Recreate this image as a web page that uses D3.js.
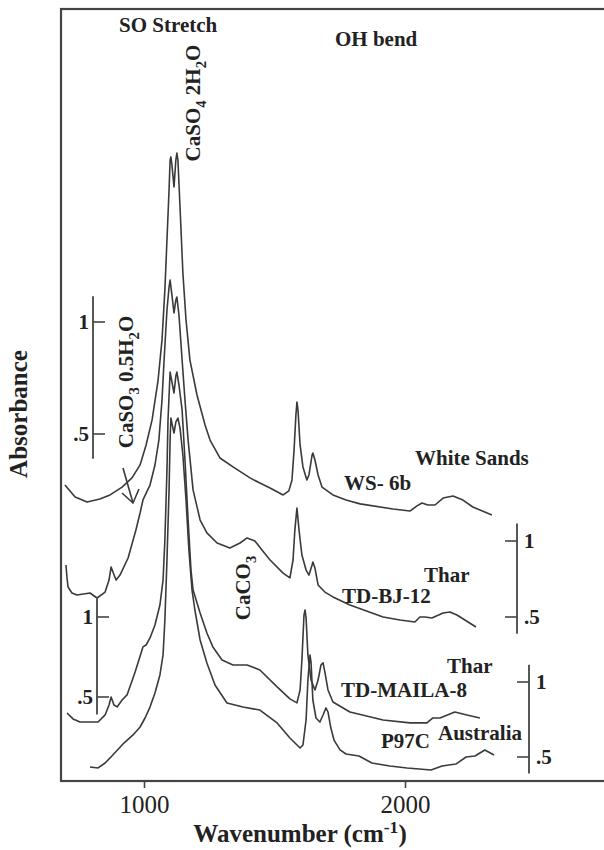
<!DOCTYPE html>
<html>
<head>
<meta charset="utf-8">
<script src="https://cdn.jsdelivr.net/npm/d3@7/dist/d3.min.js"></script>
<style>
  body { margin: 0; background: #fff; }
  text { font-family: "Liberation Serif", "Times New Roman", serif; fill: #222; }
</style>
</head>
<body>
<svg id="chart-area"></svg>
<script>
// spectra: [wavenumber (cm-1), absorbance]
const ws6b = [[697,.272],[736,.219],[782,.196],[831,.210],[870,.228],[916,.263],[954,.304],[985,.362],[1008,.451],[1031,.563],[1054,.741],[1069,.920],[1080,1.143],[1088,1.366],[1096,1.589],[1100,1.723],[1103,1.737],[1107,1.701],[1115,1.603],[1122,1.723],[1126,1.754],[1130,1.723],[1138,1.513],[1149,1.219],[1161,1.009],[1176,.830],[1203,.674],[1234,.540],[1253,.473],[1291,.393],[1341,.353],[1406,.304],[1444,.281],[1483,.259],[1533,.228],[1555,.246],[1567,.295],[1575,.429],[1582,.585],[1586,.643],[1590,.607],[1598,.451],[1609,.353],[1624,.295],[1632,.317],[1644,.406],[1647,.415],[1655,.384],[1667,.317],[1682,.263],[1724,.228],[1774,.205],[1828,.188],[1954,.165],[2019,.156],[2046,.179],[2065,.192],[2088,.183],[2115,.183],[2146,.214],[2184,.223],[2222,.205],[2260,.174],[2333,.138]]

const tdbj12 = [[701,.842],[705,.757],[709,.697],[724,.658],[743,.645],[793,.658],[820,.625],[851,.664],[866,.743],[874,.829],[881,.796],[893,.743],[908,.776],[939,.888],[969,1.072],[985,1.184],[996,1.270],[1023,1.368],[1042,1.500],[1057,1.664],[1069,1.928],[1077,2.191],[1088,2.520],[1096,2.671],[1100,2.717],[1107,2.618],[1115,2.500],[1122,2.586],[1126,2.605],[1134,2.487],[1146,2.191],[1157,1.928],[1169,1.664],[1188,1.336],[1215,1.138],[1241,1.053],[1280,.987],[1329,.954],[1368,.987],[1395,1.020],[1425,1.000],[1452,.941],[1483,.875],[1533,.789],[1559,.757],[1571,.875],[1578,1.072],[1586,1.217],[1594,1.072],[1605,.908],[1621,.809],[1632,.776],[1644,.842],[1647,.862],[1655,.822],[1667,.711],[1693,.664],[1724,.632],[1789,.579],[1916,.500],[1981,.480],[2038,.467],[2057,.500],[2077,.500],[2103,.493],[2146,.526],[2172,.533],[2199,.513],[2272,.434]]

const tdmaila8 = [[705,.400],[728,.363],[755,.344],[824,.344],[851,.388],[866,.450],[874,.500],[885,.450],[897,.438],[916,.481],[935,.513],[966,.656],[996,.813],[1008,.825],[1023,.869],[1042,.950],[1061,1.075],[1073,1.231],[1080,1.481],[1088,1.919],[1092,2.231],[1100,2.531],[1107,2.469],[1115,2.400],[1122,2.506],[1126,2.531],[1134,2.450],[1146,2.294],[1157,1.981],[1169,1.606],[1180,1.294],[1188,1.169],[1215,1.025],[1241,.900],[1264,.813],[1299,.731],[1341,.700],[1395,.700],[1444,.669],[1510,.563],[1559,.488],[1586,.463],[1598,.544],[1605,.731],[1613,1.013],[1617,1.044],[1621,.994],[1628,.763],[1640,.606],[1655,.544],[1667,.606],[1678,.700],[1686,.713],[1693,.656],[1705,.544],[1724,.469],[1789,.406],[1916,.356],[2019,.338],[2084,.338],[2107,.369],[2134,.369],[2191,.406],[2237,.388],[2287,.369]]

const p97c = [[793,.433],[824,.427],[851,.460],[877,.507],[923,.593],[958,.647],[985,.700],[1004,.760],[1023,.833],[1042,.927],[1061,1.047],[1073,1.180],[1080,1.413],[1088,1.813],[1096,2.280],[1100,2.613],[1103,2.760],[1111,2.693],[1115,2.660],[1122,2.733],[1130,2.760],[1138,2.693],[1149,2.513],[1161,2.213],[1172,1.880],[1184,1.613],[1195,1.480],[1215,1.280],[1241,1.127],[1272,.980],[1318,.860],[1379,.833],[1444,.813],[1510,.727],[1559,.627],[1598,.560],[1609,.580],[1621,.747],[1628,1.013],[1636,1.180],[1640,1.133],[1647,.880],[1659,.760],[1674,.733],[1686,.780],[1697,.827],[1705,.800],[1716,.693],[1728,.613],[1751,.547],[1774,.520],[1824,.507],[1873,.460],[1942,.440],[2008,.427],[2100,.413],[2142,.440],[2195,.453],[2234,.500],[2268,.507],[2306,.547],[2341,.513]]

const xTicks = [1000, 2000]
const barTicks = [0.5, 1]
const barExtent = [0.39, 1.115]

const width = 604
const height = 850
const ink = "#3a3a3a"

const svg = d3.select("#chart-area")
    .attr("width", width)
    .attr("height", height)

const frame = {left: 61, top: 9, right: 616, bottom: 781}

const x = d3.scaleLinear().domain([1000, 2000]).range([144, 405])

// each spectrum has its own absorbance scale (shown by its scale bar)
const spectra = [
    {data: ws6b, y: d3.scaleLinear().domain([0.5, 1]).range([434, 322]), bar: 93, side: "left"},
    {data: tdbj12, y: d3.scaleLinear().domain([0.5, 1]).range([617, 541]), bar: 517, side: "right"},
    {data: tdmaila8, y: d3.scaleLinear().domain([0.5, 1]).range([697, 617]), bar: 97, side: "left"},
    {data: p97c, y: d3.scaleLinear().domain([0.5, 1]).range([757, 682]), bar: 529, side: "right"}
]

// frame
svg.append("rect")
    .attr("x", frame.left)
    .attr("y", frame.top)
    .attr("width", frame.right - frame.left)
    .attr("height", frame.bottom - frame.top)
    .attr("fill", "none")
    .attr("stroke", "#444")
    .attr("stroke-width", 2.2)

// x axis
const gx = svg.append("g")
    .attr("transform", `translate(0,${frame.bottom})`)
    .call(d3.axisBottom(x).tickValues(xTicks).tickSize(7).tickPadding(7).tickFormat(d3.format("d")))
gx.select(".domain").remove()
gx.selectAll("line").attr("stroke", "#444").attr("stroke-width", 1.6)
gx.selectAll("text")
    .attr("font-family", "Liberation Serif, serif")
    .attr("font-size", 25)
    .attr("fill", "#222")

// spectra lines
spectra.forEach(s => {
    const line = d3.line()
        .x(d => x(d[0]))
        .y(d => s.y(d[1]))
    svg.append("path")
        .datum(s.data)
        .attr("d", line)
        .attr("fill", "none")
        .attr("stroke", ink)
        .attr("stroke-width", 1.6)
        .attr("stroke-linejoin", "round")
})

// scale bars
spectra.forEach(s => {
    const g = svg.append("g")
    g.append("line")
        .attr("x1", s.bar).attr("x2", s.bar)
        .attr("y1", s.y(barExtent[0])).attr("y2", s.y(barExtent[1]))
        .attr("stroke", "#444").attr("stroke-width", 1.8)
    const dir = s.side === "left" ? 1 : -1
    g.selectAll(".tick")
        .data(barTicks)
        .enter().append("line")
        .attr("x1", s.bar).attr("x2", s.bar + dir * 12)
        .attr("y1", d => s.y(d)).attr("y2", d => s.y(d))
        .attr("stroke", "#444").attr("stroke-width", 1.6)
    g.selectAll(".lab")
        .data(barTicks)
        .enter().append("text")
        .attr("x", s.side === "left" ? s.bar - 4 : s.bar + 7)
        .attr("y", d => s.y(d))
        .attr("dy", "0.35em")
        .attr("text-anchor", s.side === "left" ? "end" : "start")
        .attr("font-size", 21)
        .attr("font-weight", "bold")
        .text(d => d === 1 ? "1" : ".5")
})

// text with sub / superscripts
function richText(parts, size) {
    const t = svg.append("text")
        .attr("font-size", size)
        .attr("font-weight", "bold")
    let shift = 0
    parts.forEach(p => {
        const s = p[1] === "sub" ? size * 0.3 : p[1] === "sup" ? -size * 0.38 : 0
        t.append("tspan")
            .attr("dy", s - shift)
            .attr("font-size", p[1] ? size * 0.7 : size)
            .text(p[0])
        shift = s
    })
    return t
}

function label(txt, px, py, size = 21) {
    svg.append("text")
        .attr("x", px).attr("y", py)
        .attr("font-size", size)
        .attr("font-weight", "bold")
        .text(txt)
}

label("SO Stretch", 119, 32)
label("OH bend", 335, 46)
label("White Sands", 415, 465)
label("WS- 6b", 344, 490)
label("Thar", 424, 582)
label("TD-BJ-12", 342, 603)
label("Thar", 447, 673)
label("TD-MAILA-8", 341, 697)
label("Australia", 438, 740)
label("P97C", 381, 748)

richText([["CaSO"], ["4", "sub"], [" 2H"], ["2", "sub"], ["O"]], 21)
    .attr("transform", "translate(200,103) rotate(-90)")
    .attr("text-anchor", "middle")

richText([["CaSO"], ["3", "sub"], [" 0.5H"], ["2", "sub"], ["O"]], 21)
    .attr("transform", "translate(133,382) rotate(-90)")
    .attr("text-anchor", "middle")

richText([["CaCO"], ["3", "sub"]], 21)
    .attr("transform", "translate(250,588) rotate(-90)")
    .attr("text-anchor", "middle")

// axis titles
richText([["Wavenumber (cm"], ["-1", "sup"], [")"]], 25)
    .attr("x", 0)
    .attr("transform", "translate(300,842)")
    .attr("text-anchor", "middle")

svg.append("text")
    .attr("transform", "translate(27,414) rotate(-90)")
    .attr("text-anchor", "middle")
    .attr("font-size", 25)
    .attr("font-weight", "bold")
    .text("Absorbance")

// arrow pointing at the CaSO3 shoulder
svg.append("line")
    .attr("x1", 123).attr("y1", 468)
    .attr("x2", 133).attr("y2", 503)
    .attr("stroke", ink).attr("stroke-width", 1.6)
svg.append("polyline")
    .attr("points", "122,493 133,503 139,489")
    .attr("fill", "none")
    .attr("stroke", ink).attr("stroke-width", 1.6)
</script>
</body>
</html>
